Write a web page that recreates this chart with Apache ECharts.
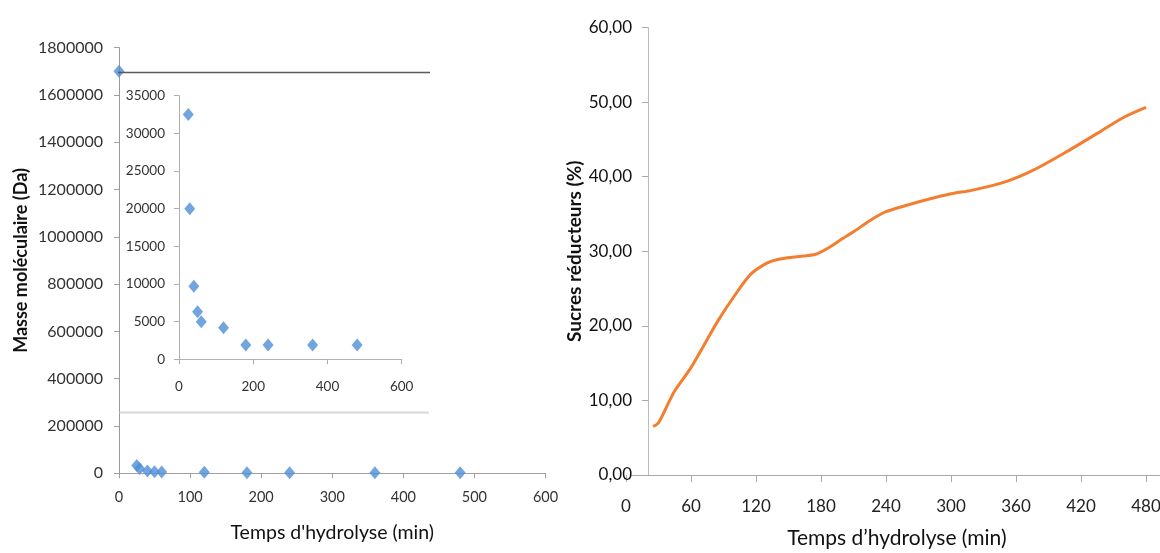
<!DOCTYPE html>
<html>
<head>
<meta charset="utf-8">
<script src="https://cdn.jsdelivr.net/npm/echarts@6/dist/echarts.min.js"></script>
<style>
html,body{margin:0;padding:0;background:#fff;}
#chart{width:1160px;height:553px;}
</style>
</head>
<body>
<div id="chart"></div>
<script>
// ---- Data ----
const massTimes = [0, 25, 29, 40, 50, 60, 120, 180, 240, 360, 480];
const massValues = [1700000, 32500, 20000, 9700, 6300, 5000, 4200, 1900, 1900, 1900, 1900];
const sugarTimes = [25, 30, 40, 45, 60, 70, 85, 100, 115, 130, 140, 160, 175, 185, 200, 210, 225, 240, 260, 280, 300, 320, 350, 375, 405, 435, 460, 480];
const sugarValues = [6.5, 7.0, 9.9, 11.3, 14.4, 16.9, 20.7, 24.0, 26.9, 28.4, 28.9, 29.3, 29.6, 30.3, 31.7, 32.6, 34.1, 35.3, 36.2, 37.0, 37.7, 38.2, 39.3, 40.8, 43.2, 45.8, 48.0, 49.3];
const massYTicks = [0, 1800000, 200000];
const insetYTicks = [0, 35000, 5000];
const sugarYTicks = [0, 60, 10];
const xTitle = "Temps d'hydrolyse (min)";
const xTitleRight = "Temps d\u2019hydrolyse (min)";
const yTitleLeft = "Masse moléculaire (Da)";
const yTitleRight = "Sucres réducteurs (%)";

const massData = massTimes.map((t, i) => [t, massValues[i]]);
const insetData = massData.filter(p => p[1] <= insetYTicks[1]);
const sugarData = sugarTimes.map((t, i) => [t, sugarValues[i]]);

const FONT = 'Lato';
const blue = '#4f8fd4';
const orange = '#f47e30';

const chart = echarts.init(document.getElementById('chart'), null, {renderer: 'canvas'});
const grids = [
  {left: 119, top: 47.6, width: 426.5, height: 425.7, outerBoundsMode: 'none'},   // main left
  {left: 179, top: 95.7, width: 222.7, height: 263.6, outerBoundsMode: 'none'},   // inset
  {left: 626, top: 27.5, width: 541.7, height: 447.5, outerBoundsMode: 'none'},   // right
  {left: 632, top: 27.5, width: 528, height: 447.5, outerBoundsMode: 'none'}      // right x axis line
];
const option = {
  animation: false,
  backgroundColor: '#fff',
  textStyle: {fontFamily: FONT},
  grid: grids,
  xAxis: [
    {
      gridIndex: 0, type: 'value', min: 0, max: 600, interval: 100,
      axisLine: {show: true, lineStyle: {color: '#a0a0a0', width: 1}},
      axisTick: {show: true, length: 5, lineStyle: {color: '#a0a0a0'}},
      axisLabel: {color: '#333', fontSize: 14.5, margin: 17, fontFamily: FONT},
      splitLine: {show: false},
      name: xTitle, nameLocation: 'middle', nameGap: 49,
      nameTextStyle: {color: '#111', fontSize: 19.5, fontFamily: FONT}
    },
    {
      gridIndex: 1, type: 'value', min: 0, max: 600, interval: 200,
      axisLine: {show: true, lineStyle: {color: '#b0b0b0', width: 1}},
      axisTick: {show: true, length: 5, lineStyle: {color: '#b0b0b0'}},
      axisLabel: {color: '#333', fontSize: 13.5, margin: 20, fontFamily: FONT},
      splitLine: {show: false}
    },
    {
      gridIndex: 2, type: 'value', min: 0, max: 500, interval: 60,
      axisLine: {show: false},
      axisTick: {show: true, length: 7, lineStyle: {color: '#a8a8a8'}},
      axisLabel: {color: '#222', fontSize: 17, margin: 23, showMaxLabel: false, fontFamily: FONT},
      splitLine: {show: false},
      name: xTitleRight, nameLocation: 'middle', nameGap: 53,
      nameTextStyle: {color: '#111', fontSize: 21, fontFamily: FONT}
    },
    {
      gridIndex: 3, type: 'value', min: 0, max: 1,
      axisLine: {show: true, lineStyle: {color: '#a8a8a8', width: 1.2}},
      axisTick: {show: false}, axisLabel: {show: false}, splitLine: {show: false}
    }
  ],
  yAxis: [
    {
      gridIndex: 0, type: 'value', min: massYTicks[0], max: massYTicks[1], interval: massYTicks[2],
      axisLine: {show: true, lineStyle: {color: '#999', width: 1}},
      axisTick: {show: true, length: 5, lineStyle: {color: '#a0a0a0'}},
      axisLabel: {color: '#333', fontSize: 16, margin: 16, fontFamily: FONT, formatter: v => String(v)},
      splitLine: {show: false},
      name: yTitleLeft, nameLocation: 'middle', nameGap: 89, nameRotate: 90,
      nameTextStyle: {color: '#111', fontSize: 18, fontWeight: 'bold', fontFamily: FONT}
    },
    {
      gridIndex: 1, type: 'value', min: insetYTicks[0], max: insetYTicks[1], interval: insetYTicks[2],
      axisLine: {show: true, lineStyle: {color: '#b0b0b0', width: 1}},
      axisTick: {show: true, length: 5, lineStyle: {color: '#b0b0b0'}},
      axisLabel: {color: '#333', fontSize: 13.5, margin: 14, fontFamily: FONT, formatter: v => String(v)},
      splitLine: {show: false}
    },
    {
      gridIndex: 2, type: 'value', min: sugarYTicks[0], max: sugarYTicks[1], interval: sugarYTicks[2],
      offset: -22,
      axisLine: {show: true, lineStyle: {color: '#bcbcbc', width: 1}},
      axisTick: {show: true, length: 6, lineStyle: {color: '#a8a8a8'}},
      axisLabel: {color: '#111', fontSize: 17, margin: 16, fontFamily: FONT,
        formatter: v => v.toFixed(2).replace('.', ',')},
      splitLine: {show: false},
      name: yTitleRight, nameLocation: 'middle', nameGap: 63, nameRotate: 90,
      nameTextStyle: {color: '#111', fontSize: 19, fontWeight: 'bold', fontFamily: FONT}
    },
    {gridIndex: 3, type: 'value', show: false}
  ],
  graphic: [
    {type: 'line', z: 100, shape: {x1: 118, y1: 72.5, x2: 430, y2: 72.5}, style: {stroke: '#5a5a5a', lineWidth: 1.3}},
    {type: 'line', z: 100, shape: {x1: 119.5, y1: 412.5, x2: 429, y2: 412.5}, style: {stroke: '#d8d8d8', lineWidth: 2}}
  ],
  series: [
    {
      type: 'scatter', xAxisIndex: 0, yAxisIndex: 0, data: massData,
      symbol: 'diamond', symbolSize: [11, 13], itemStyle: {color: blue}, clip: false, z: 3
    },
    {
      type: 'scatter', xAxisIndex: 1, yAxisIndex: 1, data: insetData,
      symbol: 'diamond', symbolSize: [11, 13], itemStyle: {color: blue}, z: 3
    },
    {
      type: 'line', xAxisIndex: 2, yAxisIndex: 2, data: sugarData,
      showSymbol: false, smooth: 0.3,
      lineStyle: {color: orange, width: 3}, itemStyle: {color: orange}
    }
  ]
};
chart.setOption(option);
</script>
</body>
</html>
